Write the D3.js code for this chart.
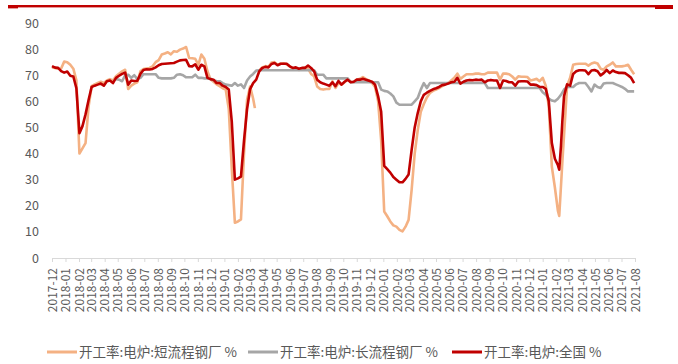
<!DOCTYPE html>
<html>
<head>
<meta charset="utf-8">
<script src="https://cdn.jsdelivr.net/npm/d3@7"></script>
<style>
  html, body { margin: 0; padding: 0; background: #fff; }
  svg { display: block; }
</style>
</head>
<body>
<svg id="chart" width="678" height="364"></svg>
<script>
// 开工率:电炉:短流程钢厂 (weekly, %)
const shortProcess = [
  ["2017-12-01",73.0],["2017-12-08",72.8],["2017-12-15",72.5],["2017-12-22",72.6],["2017-12-29",75.2],
  ["2018-01-05",75.0],["2018-01-12",74.0],["2018-01-19",72.5],["2018-01-26",68.0],["2018-02-02",40.0],
  ["2018-02-09",42.0],["2018-02-16",44.0],["2018-02-23",58.0],["2018-03-02",65.8],["2018-03-09",66.5],
  ["2018-03-16",67.0],["2018-03-23",67.5],["2018-03-30",67.0],["2018-04-06",68.0],["2018-04-13",68.5],
  ["2018-04-20",68.0],["2018-04-27",69.6],["2018-05-04",70.6],["2018-05-11",71.5],["2018-05-18",72.1],
  ["2018-05-25",64.7],["2018-06-01",66.0],["2018-06-08",66.8],["2018-06-15",67.3],["2018-06-22",71.5],
  ["2018-06-29",72.4],["2018-07-06",72.6],["2018-07-13",72.8],["2018-07-20",73.4],["2018-07-27",75.0],
  ["2018-08-03",75.8],["2018-08-10",77.9],["2018-08-17",78.3],["2018-08-24",78.8],["2018-08-31",78.0],
  ["2018-09-07",79.2],["2018-09-14",79.0],["2018-09-21",79.8],["2018-09-28",80.2],["2018-10-05",80.8],
  ["2018-10-12",76.6],["2018-10-19",76.5],["2018-10-26",76.3],["2018-11-02",74.0],["2018-11-09",77.9],
  ["2018-11-16",76.3],["2018-11-23",71.5],["2018-11-30",68.5],["2018-12-07",67.5],["2018-12-14",66.5],
  ["2018-12-21",65.8],["2018-12-28",65.0],["2019-01-04",64.5],["2019-01-11",57.0],["2019-01-18",34.0],
  ["2019-01-25",13.5],["2019-02-01",14.0],["2019-02-08",14.8],["2019-02-15",40.0],["2019-02-22",60.6],
  ["2019-03-01",65.7],["2019-03-08",61.0],["2019-03-12",57.4],["2019-03-15",null],
  ["2019-03-22",71.8],["2019-03-29",73.0],["2019-04-05",73.5],["2019-04-12",73.2],["2019-04-19",74.9],
  ["2019-04-26",75.0],["2019-05-03",74.0],["2019-05-10",74.4],["2019-05-17",74.6],["2019-05-24",74.2],
  ["2019-05-31",73.4],["2019-06-07",72.5],["2019-06-14",72.8],["2019-06-21",72.0],["2019-06-28",72.5],
  ["2019-07-05",73.0],["2019-07-12",72.5],["2019-07-19",70.5],["2019-07-26",69.6],["2019-08-02",65.7],
  ["2019-08-09",64.7],["2019-08-16",64.5],["2019-08-23",64.7],["2019-08-30",64.7],["2019-09-06",67.7],
  ["2019-09-13",65.1],["2019-09-20",67.0],["2019-09-27",66.4],["2019-10-04",67.3],["2019-10-11",68.6],
  ["2019-10-18",67.5],["2019-10-25",67.3],["2019-11-01",68.3],["2019-11-08",68.6],["2019-11-15",69.3],
  ["2019-11-22",68.5],["2019-11-29",68.0],["2019-12-06",67.0],["2019-12-13",65.5],["2019-12-20",60.0],
  ["2019-12-27",45.0],["2020-01-03",17.8],["2020-01-10",16.0],["2020-01-17",14.0],["2020-01-24",12.5],
  ["2020-01-31",12.0],["2020-02-07",10.8],["2020-02-14",10.2],["2020-02-21",12.0],["2020-02-28",14.6],
  ["2020-03-06",26.1],["2020-03-13",40.0],["2020-03-20",49.0],["2020-03-27",56.0],["2020-04-03",59.0],
  ["2020-04-10",61.5],["2020-04-17",63.2],["2020-04-24",64.0],["2020-05-01",64.5],["2020-05-08",65.1],
  ["2020-05-15",65.8],["2020-05-22",66.5],["2020-05-29",67.0],["2020-06-05",68.0],["2020-06-12",69.0],
  ["2020-06-19",70.6],["2020-06-26",68.6],["2020-07-03",69.5],["2020-07-10",70.4],["2020-07-17",70.4],
  ["2020-07-24",70.4],["2020-07-31",70.6],["2020-08-07",70.6],["2020-08-14",70.4],["2020-08-21",70.4],
  ["2020-08-28",71.0],["2020-09-04",71.0],["2020-09-11",71.0],["2020-09-18",71.0],["2020-09-25",68.3],
  ["2020-10-02",70.6],["2020-10-09",70.6],["2020-10-16",70.4],["2020-10-23",69.5],["2020-10-30",68.3],
  ["2020-11-06",69.6],["2020-11-13",69.4],["2020-11-20",69.4],["2020-11-27",69.3],["2020-12-04",68.0],
  ["2020-12-11",68.3],["2020-12-18",68.6],["2020-12-25",67.7],["2021-01-01",69.0],["2021-01-08",66.0],
  ["2021-01-15",58.0],["2021-01-22",35.0],["2021-01-29",27.0],["2021-02-05",18.0],["2021-02-08",16.1],
  ["2021-02-15",36.3],["2021-02-22",55.0],["2021-02-26",66.0],["2021-03-05",69.0],["2021-03-12",74.0],
  ["2021-03-19",74.3],["2021-03-26",74.4],["2021-04-02",74.4],["2021-04-09",74.4],["2021-04-16",73.7],
  ["2021-04-23",74.5],["2021-04-30",74.9],["2021-05-07",74.5],["2021-05-14",72.5],["2021-05-21",72.1],
  ["2021-05-28",73.4],["2021-06-04",74.0],["2021-06-11",74.9],["2021-06-18",73.4],["2021-06-25",73.4],
  ["2021-07-02",73.4],["2021-07-09",73.6],["2021-07-16",74.0],["2021-07-23",72.1],["2021-07-30",70.4]
];

// 开工率:电炉:长流程钢厂 (weekly, %)
const longProcess = [
  ["2018-04-27",68.5],["2018-05-04",68.3],["2018-05-11",67.7],["2018-05-18",70.0],["2018-05-25",70.2],
  ["2018-06-01",69.0],["2018-06-08",70.0],["2018-06-15",68.5],["2018-06-22",69.0],["2018-06-29",70.4],
  ["2018-07-06",70.4],["2018-07-13",70.4],["2018-07-20",70.4],["2018-07-27",70.4],["2018-08-03",69.0],
  ["2018-08-10",68.8],["2018-08-17",68.8],["2018-08-24",68.8],["2018-08-31",68.8],["2018-09-07",69.0],
  ["2018-09-14",70.2],["2018-09-21",70.4],["2018-09-28",70.0],["2018-10-05",69.2],["2018-10-12",69.2],
  ["2018-10-19",69.2],["2018-10-26",70.2],["2018-11-02",69.0],["2018-11-09",69.0],["2018-11-16",68.8],
  ["2018-11-23",68.8],["2018-11-30",68.6],["2018-12-07",68.0],["2018-12-14",67.8],["2018-12-21",67.7],
  ["2018-12-28",67.0],["2019-01-04",66.4],["2019-01-11",66.2],["2019-01-18",66.0],["2019-01-25",67.0],
  ["2019-02-01",66.0],["2019-02-08",66.5],["2019-02-15",65.1],["2019-02-22",68.0],["2019-03-01",69.5],
  ["2019-03-08",70.5],["2019-03-15",71.8],["2019-03-22",71.9],["2019-04-05",71.9],["2019-04-19",71.9],
  ["2019-05-03",71.9],["2019-05-17",71.9],["2019-05-31",71.9],["2019-06-14",71.9],["2019-06-28",71.9],
  ["2019-07-12",71.9],["2019-07-26",71.9],["2019-08-02",70.2],["2019-08-09",70.2],["2019-08-16",70.2],
  ["2019-08-23",68.8],["2019-09-06",68.8],["2019-09-20",68.8],["2019-10-04",68.8],["2019-10-11",68.8],
  ["2019-10-18",67.3],["2019-11-01",67.3],["2019-11-15",67.3],["2019-11-29",67.3],["2019-12-13",67.3],
  ["2019-12-20",67.3],["2019-12-27",64.5],["2020-01-03",64.0],["2020-01-10",63.8],["2020-01-17",63.0],
  ["2020-01-24",61.9],["2020-01-31",59.5],["2020-02-07",58.7],["2020-02-14",58.7],["2020-02-21",58.7],
  ["2020-02-28",58.7],["2020-03-06",58.7],["2020-03-13",60.0],["2020-03-20",61.3],["2020-03-27",64.5],
  ["2020-04-03",67.0],["2020-04-10",65.1],["2020-04-17",67.0],["2020-05-01",67.0],["2020-05-15",67.0],
  ["2020-05-29",67.0],["2020-06-12",67.0],["2020-06-26",67.0],["2020-07-10",67.0],["2020-07-24",67.0],
  ["2020-08-07",67.0],["2020-08-21",67.0],["2020-08-28",65.1],["2020-09-11",65.1],["2020-09-25",65.1],
  ["2020-10-09",65.1],["2020-10-23",65.1],["2020-11-06",65.1],["2020-11-20",65.1],["2020-12-04",65.1],
  ["2020-12-18",65.1],["2020-12-25",65.1],["2021-01-01",63.5],["2021-01-08",62.5],["2021-01-15",61.0],
  ["2021-01-22",60.3],["2021-01-29",60.0],["2021-02-05",61.0],["2021-02-12",62.5],["2021-02-19",64.5],
  ["2021-02-26",65.5],["2021-03-05",65.5],["2021-03-12",65.5],["2021-03-19",66.5],["2021-03-26",67.0],
  ["2021-04-02",67.0],["2021-04-09",67.0],["2021-04-16",65.5],["2021-04-23",63.8],["2021-04-30",66.4],
  ["2021-05-07",65.5],["2021-05-14",65.1],["2021-05-21",66.8],["2021-05-28",67.0],["2021-06-04",67.0],
  ["2021-06-11",67.0],["2021-06-18",66.5],["2021-06-25",66.0],["2021-07-02",65.5],["2021-07-09",64.8],
  ["2021-07-16",63.8],["2021-07-23",63.8],["2021-07-30",63.8]
];

// 开工率:电炉:全国 (weekly, %)
const national = [
  ["2017-12-01",73.5],["2017-12-08",72.9],["2017-12-15",72.8],["2017-12-22",71.6],["2017-12-29",71.0],
  ["2018-01-05",71.4],["2018-01-12",69.8],["2018-01-19",69.5],["2018-01-26",65.0],["2018-02-02",47.8],
  ["2018-02-09",50.5],["2018-02-16",55.0],["2018-02-23",60.5],["2018-03-02",65.5],["2018-03-09",66.0],
  ["2018-03-16",66.4],["2018-03-23",66.8],["2018-03-30",66.0],["2018-04-06",67.7],["2018-04-13",68.0],
  ["2018-04-20",67.0],["2018-04-27",69.0],["2018-05-04",69.8],["2018-05-11",70.5],["2018-05-18",71.0],
  ["2018-05-25",66.4],["2018-06-01",68.0],["2018-06-08",67.8],["2018-06-15",67.9],["2018-06-22",70.5],
  ["2018-06-29",72.0],["2018-07-06",72.3],["2018-07-13",72.2],["2018-07-20",72.4],["2018-07-27",73.0],
  ["2018-08-03",73.8],["2018-08-10",74.3],["2018-08-17",74.4],["2018-08-24",74.5],["2018-08-31",74.6],
  ["2018-09-07",74.7],["2018-09-14",75.2],["2018-09-21",75.7],["2018-09-28",75.8],["2018-10-05",75.9],
  ["2018-10-12",73.5],["2018-10-19",73.4],["2018-10-26",74.2],["2018-11-02",72.1],["2018-11-09",74.0],
  ["2018-11-16",73.4],["2018-11-23",69.0],["2018-11-30",68.5],["2018-12-07",68.3],["2018-12-14",67.0],
  ["2018-12-21",67.0],["2018-12-28",66.0],["2019-01-04",65.5],["2019-01-11",64.5],["2019-01-18",52.0],
  ["2019-01-25",30.0],["2019-02-01",30.5],["2019-02-08",31.2],["2019-02-15",45.0],["2019-02-22",57.0],
  ["2019-03-01",64.7],["2019-03-08",67.0],["2019-03-15",68.3],["2019-03-22",71.5],["2019-03-29",72.8],
  ["2019-04-05",73.2],["2019-04-12",73.0],["2019-04-19",74.3],["2019-04-26",74.7],["2019-05-03",73.8],
  ["2019-05-10",74.4],["2019-05-17",74.4],["2019-05-24",74.4],["2019-05-31",73.4],["2019-06-07",72.8],
  ["2019-06-14",73.0],["2019-06-21",72.5],["2019-06-28",72.8],["2019-07-05",72.8],["2019-07-12",73.7],
  ["2019-07-19",72.8],["2019-07-26",71.5],["2019-08-02",68.3],["2019-08-09",67.3],["2019-08-16",66.8],
  ["2019-08-23",66.4],["2019-08-30",66.0],["2019-09-06",67.3],["2019-09-13",65.8],["2019-09-20",67.8],
  ["2019-09-27",66.4],["2019-10-04",67.5],["2019-10-11",68.3],["2019-10-18",67.3],["2019-10-25",67.5],
  ["2019-11-01",68.3],["2019-11-08",68.3],["2019-11-15",68.6],["2019-11-22",68.3],["2019-11-29",67.9],
  ["2019-12-06",67.5],["2019-12-13",66.4],["2019-12-20",61.9],["2019-12-27",56.0],["2020-01-03",35.3],
  ["2020-01-10",34.0],["2020-01-17",32.7],["2020-01-24",31.0],["2020-01-31",30.0],["2020-02-07",29.0],
  ["2020-02-14",29.0],["2020-02-21",30.3],["2020-02-28",32.0],["2020-03-06",41.4],["2020-03-13",50.0],
  ["2020-03-20",55.5],["2020-03-27",60.0],["2020-04-03",62.5],["2020-04-10",63.3],["2020-04-17",64.0],
  ["2020-04-24",64.6],["2020-05-01",65.0],["2020-05-08",65.5],["2020-05-15",66.2],["2020-05-22",66.4],
  ["2020-05-29",66.8],["2020-06-05",67.3],["2020-06-12",67.5],["2020-06-19",69.0],["2020-06-26",66.8],
  ["2020-07-03",67.5],["2020-07-10",68.0],["2020-07-17",68.2],["2020-07-24",68.1],["2020-07-31",68.3],
  ["2020-08-07",68.2],["2020-08-14",68.3],["2020-08-21",67.3],["2020-08-28",68.0],["2020-09-04",68.2],
  ["2020-09-11",68.0],["2020-09-18",68.0],["2020-09-25",65.1],["2020-10-02",68.0],["2020-10-09",67.8],
  ["2020-10-16",67.3],["2020-10-23",67.3],["2020-10-30",66.0],["2020-11-06",67.6],["2020-11-13",67.7],
  ["2020-11-20",67.7],["2020-11-27",67.6],["2020-12-04",66.4],["2020-12-11",66.4],["2020-12-18",66.2],
  ["2020-12-25",65.5],["2021-01-01",65.5],["2021-01-08",64.8],["2021-01-15",60.0],["2021-01-22",44.0],
  ["2021-01-29",38.0],["2021-02-05",35.5],["2021-02-08",33.8],["2021-02-12",43.0],["2021-02-15",52.0],
  ["2021-02-19",62.0],["2021-02-26",66.5],["2021-03-05",66.0],["2021-03-12",70.5],["2021-03-19",71.5],
  ["2021-03-26",71.9],["2021-04-02",71.9],["2021-04-09",71.8],["2021-04-16",70.4],["2021-04-23",71.8],
  ["2021-04-30",72.0],["2021-05-07",71.5],["2021-05-14",69.9],["2021-05-21",70.8],["2021-05-28",72.0],
  ["2021-06-04",70.8],["2021-06-11",71.8],["2021-06-18",71.2],["2021-06-25",70.9],["2021-07-02",70.9],
  ["2021-07-09",70.8],["2021-07-16",70.0],["2021-07-23",69.0],["2021-07-30",67.0]
];

const yTicks = [0, 10, 20, 30, 40, 50, 60, 70, 80, 90];
const xStart = "2017-12-01";
const xEnd = "2021-08-01";
const seriesNames = ["开工率:电炉:短流程钢厂 %", "开工率:电炉:长流程钢厂 %", "开工率:电炉:全国 %"];
const seriesColors = ["#F4B183", "#A6A6A6", "#C00000"];

const parse = d3.timeParse("%Y-%m-%d");
const svg = d3.select("#chart");
const font = "'Noto Sans CJK SC', 'Noto Sans', sans-serif";

// header rule
svg.append("rect").attr("x", 8).attr("y", 5).attr("width", 665).attr("height", 2.4).attr("fill", "#C00000");
svg.append("rect").attr("x", 8).attr("y", 5).attr("width", 10).attr("height", 3.4).attr("fill", "#C00000");
svg.append("rect").attr("x", 655).attr("y", 5).attr("width", 18).attr("height", 4).attr("fill", "#C00000");

const x = d3.scaleTime().domain([parse(xStart), parse(xEnd)]).range([52, 635]);
const y = d3.scaleLinear().domain([0, 90]).range([258, 23]);

// y axis labels (no axis line)
const yAxis = svg.append("g")
  .attr("transform", "translate(39,0)")
  .call(d3.axisLeft(y).tickValues(yTicks).tickSize(0).tickPadding(0).tickFormat(d3.format("d")));
yAxis.select(".domain").remove();
yAxis.selectAll("text")
  .attr("fill", "#595959").style("font-family", font).style("font-size", "12.5px");

// x axis
const xAxis = svg.append("g")
  .attr("transform", "translate(0,258)")
  .call(d3.axisBottom(x).ticks(d3.timeMonth.every(1)).tickSize(4).tickFormat(d3.timeFormat("%Y-%m")));
xAxis.select(".domain").attr("stroke", "#D9D9D9").attr("d", "M52,0.5H635");
xAxis.selectAll(".tick line").attr("stroke", "#D9D9D9");
xAxis.selectAll(".tick text")
  .attr("fill", "#595959")
  .style("font-family", font).style("font-size", "12px")
  .attr("text-anchor", "end")
  .attr("transform", "rotate(-90)")
  .attr("x", -10).attr("y", 0).attr("dy", "0.35em");

// series lines
const line = d3.line()
  .defined(d => d[1] != null)
  .x(d => x(parse(d[0])))
  .y(d => y(d[1]));

[shortProcess, longProcess, national].forEach((data, i) => {
  svg.append("path")
    .datum(data)
    .attr("fill", "none")
    .attr("stroke", seriesColors[i])
    .attr("stroke-width", 2.6)
    .attr("stroke-linejoin", "round")
    .attr("d", line);
});

// legend
const legendX = [47, 248, 452];
const legend = svg.append("g");
seriesNames.forEach((name, i) => {
  const g = legend.append("g").attr("transform", `translate(${legendX[i]},352)`);
  g.append("line").attr("x1", 0).attr("x2", 30).attr("y1", 0).attr("y2", 0)
    .attr("stroke", seriesColors[i]).attr("stroke-width", 3);
  g.append("text").attr("x", 32).attr("y", 0).attr("dy", "0.35em")
    .attr("fill", "#595959").style("font-family", font).style("font-size", "13.5px")
    .text(name);
});
</script>
</body>
</html>
